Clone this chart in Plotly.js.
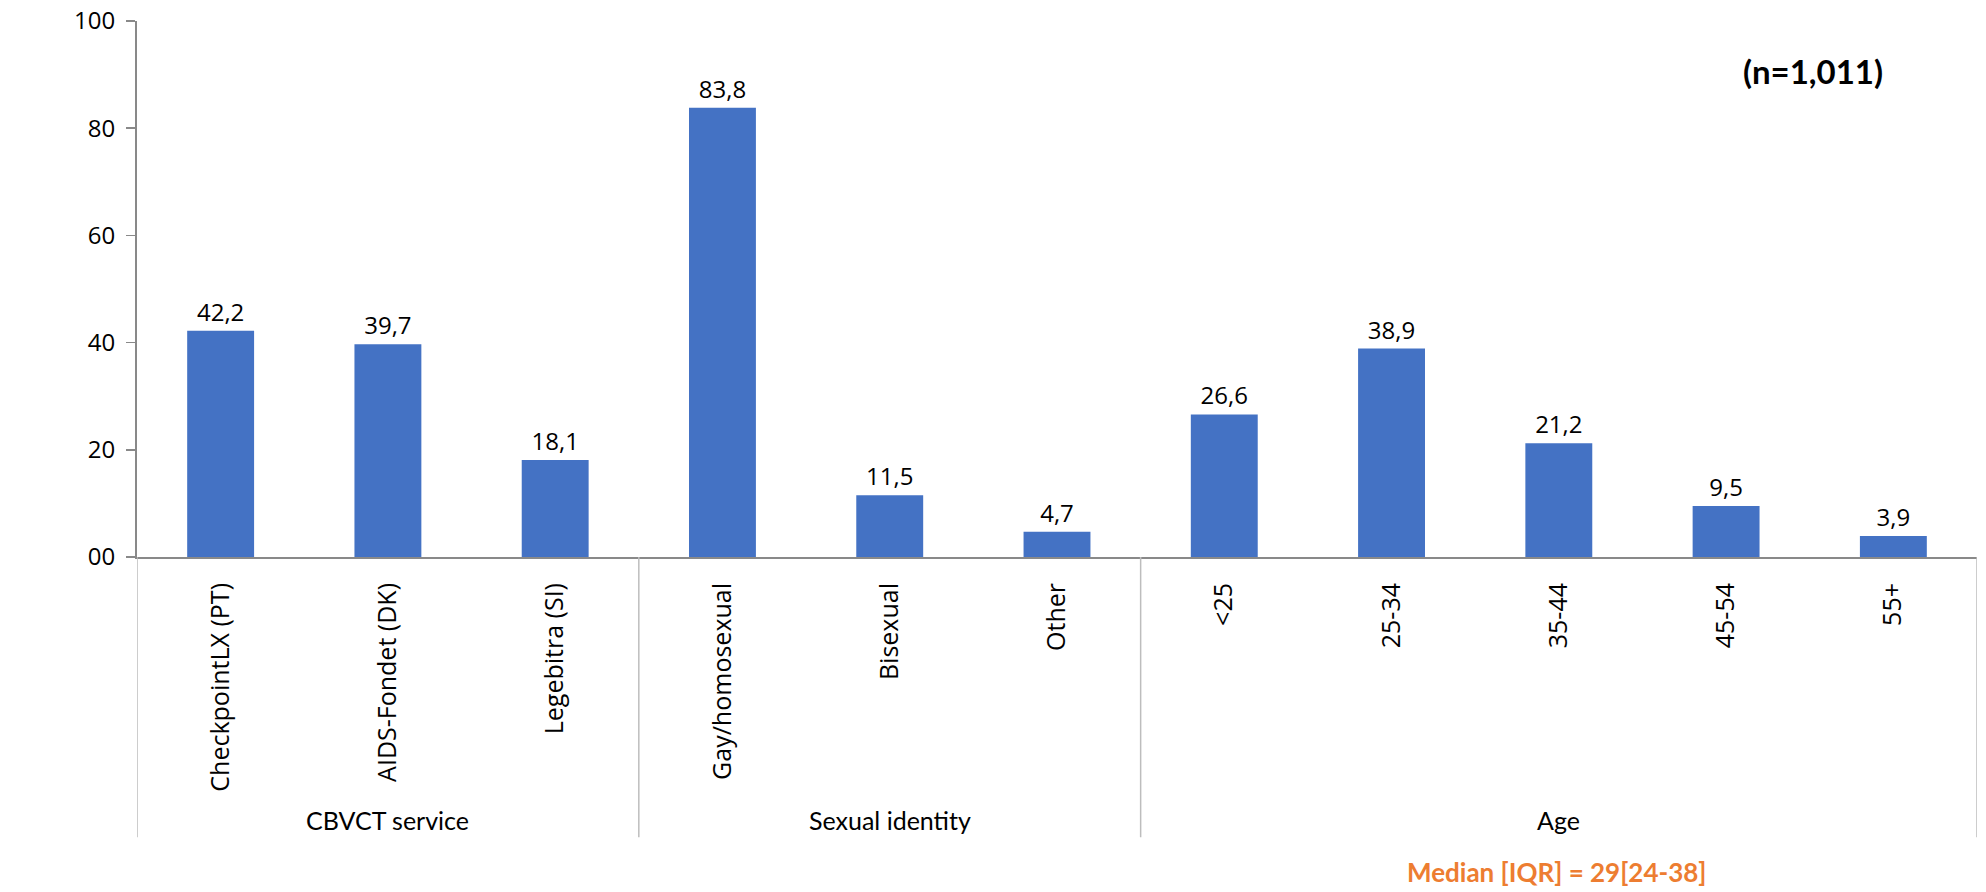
<!DOCTYPE html>
<html>
<head>
<meta charset="utf-8">
<script src="https://cdn.plot.ly/plotly-3.0.1.min.js"></script>
<style>html,body{margin:0;padding:0;background:#fff;}#chart{width:1986px;height:892px;}</style>
</head>
<body>
<div id="chart"></div>
<script>
const categories = ["CheckpointLX (PT)", "AIDS-Fondet (DK)", "Legebitra (SI)", "Gay/homosexual", "Bisexual", "Other", "<25", "25-34", "35-44", "45-54", "55+"];
const values = [42.2, 39.7, 18.1, 83.8, 11.5, 4.7, 26.6, 38.9, 21.2, 9.5, 3.9];
const groups = ["CBVCT service", "Sexual identity", "Age"];
const groupStarts = [0, 3, 6];
const groupSizes = [3, 3, 5];
const yTickVals = [0, 20, 40, 60, 80, 100];
const yTickText = ["00", "20", "40", "60", "80", "100"];
const sampleNote = "(n=1,011)";
const medianNote = "Median [IQR] = 29[24-38]";

const xs = categories.map((c, i) => i);
const axisColor = "#898989";
const sepBottom = -0.523;

const shapes = [];
const annotations = [];
const bounds = [-0.5];
groups.forEach((g, k) => {
  const s = groupStarts[k], n = groupSizes[k];
  bounds.push(s + n - 0.5);
  annotations.push({
    x: s + (n - 1) / 2, xref: "x", y: -0.49, yref: "paper",
    text: g, showarrow: false, xanchor: "center", yanchor: "middle",
    font: {family: "Lato, 'Open Sans', sans-serif", size: 25, color: "#000"}
  });
});
bounds.forEach(b => {
  shapes.push({type: "line", xref: "x", yref: "paper", x0: b, x1: b, y0: 0, y1: sepBottom,
    line: {color: "#bdbdbd", width: 1.5}});
});
annotations.push({x: 0.911, xref: "paper", y: 0.906, yref: "paper", text: "<b>" + sampleNote + "</b>",
  showarrow: false, xanchor: "center", yanchor: "middle",
  font: {family: "Lato, sans-serif", size: 33, color: "#000"}});
annotations.push({x: 0.772, xref: "paper", y: -0.588, yref: "paper", text: "<b>" + medianNote + "</b>",
  showarrow: false, xanchor: "center", yanchor: "middle",
  font: {family: "Lato, sans-serif", size: 26, color: "#ED7D31"}});
annotations.push({x: 23, xref: "pixel", y: 0.53, yref: "paper", text: "%", showarrow: false,
  xanchor: "center", yanchor: "middle", font: {family: "'Open Sans', sans-serif", size: 20, color: "#000"}});

const trace = {
  type: "bar", x: xs, y: values,
  marker: {color: "#4472C4"},
  texttemplate: "%{y:.1f}", textposition: "outside", cliponaxis: false,
  textfont: {family: "'Open Sans', sans-serif", size: 24, color: "#000"},
  hoverinfo: "skip"
};

const layout = {
  width: 1986, height: 892,
  margin: {l: 137, r: 9, t: 21, b: 335},
  paper_bgcolor: "#fff", plot_bgcolor: "#fff",
  separators: ", ",
  bargap: 0.6,
  showlegend: false,
  xaxis: {
    range: [-0.5, 10.5], tickmode: "array", tickvals: xs, ticktext: categories,
    tickangle: -90, ticks: "", showgrid: false, zeroline: false,
    showline: true, linecolor: axisColor, linewidth: 2,
    ticklabelstandoff: 14,
    tickfont: {family: "'Open Sans', sans-serif", size: 25, color: "#000"}
  },
  yaxis: {
    range: [0, 100], tickmode: "array", tickvals: yTickVals, ticktext: yTickText,
    ticks: "outside", ticklen: 9, tickcolor: axisColor, tickwidth: 1.5,
    showgrid: false, zeroline: false, showline: true, linecolor: axisColor, linewidth: 2,
    ticklabelstandoff: 6,
    tickfont: {family: "'Open Sans', sans-serif", size: 24, color: "#000"}
  },
  shapes: shapes,
  annotations: annotations
};

Plotly.newPlot("chart", [trace], layout, {displayModeBar: false, staticPlot: true});
</script>
</body>
</html>
